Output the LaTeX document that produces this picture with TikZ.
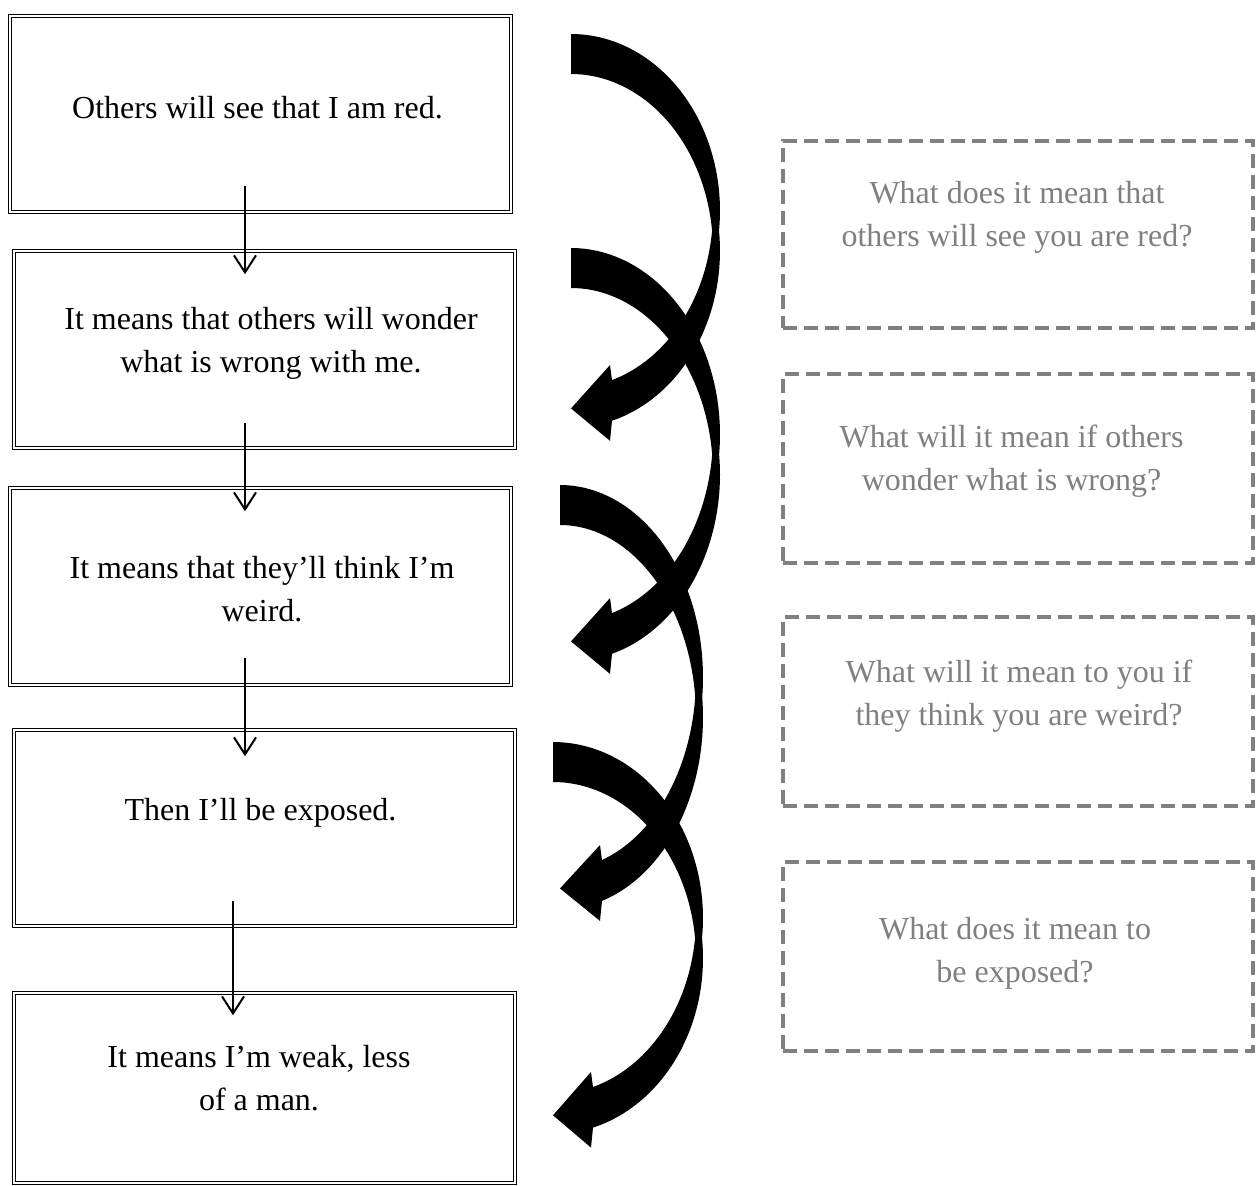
\documentclass[tikz,border=0pt]{standalone}
\usepackage{fontspec}
\setmainfont{Liberation Serif}
\usetikzlibrary{arrows.meta,calc}
\definecolor{qgray}{RGB}{128,128,128}
\tikzset{
  x=0.5pt, y=-0.5pt,
  leftbox/.style={draw=black, line width=0.75pt, double=white, double distance=0.75pt,
    minimum width=250.5pt, inner sep=0pt, rectangle},
  lefttext/.style={font=\fontsize{16}{21.5}\selectfont, align=center, inner sep=0pt, text=black},
  graytext/.style={font=\fontsize{16}{21.5}\selectfont, align=center, inner sep=0pt, text=qgray},
  dashbox/.style={draw=qgray, line width=2pt, dash pattern=on 7pt off 3.5pt,
    minimum width=235pt, inner sep=0pt, rectangle},
  conn/.style={line width=1pt, -{Straight Barb[length=8.5pt, width=11pt]}},
}
% #1 x0, #2 top, #3 outer radius, #4 vertical radius, #5 head offset
\newcommand{\bigcurvearrow}[5]{%
  \pgfmathsetmacro\cvya{#2+#4}%
  \pgfmathsetmacro\cvyb{#2+40+#4}%
  \pgfmathsetmacro\cvRi{#3-7}%
  \pgfmathsetmacro\cvta{asin(20/#4)}%
  \pgfmathsetmacro\cvtlo{acos(#5/#3)}%
  \pgfmathsetmacro\cvtli{acos(#5/\cvRi)}%
  \pgfmathsetmacro\cvU{\cvya+#4*sin(\cvtli)}%
  \pgfmathsetmacro\cvL{\cvyb+#4*sin(\cvtlo)}%
  \pgfmathsetmacro\cvtip{(\cvU+\cvL)/2+8}%
  \fill[black]
    plot[domain=-90:\cvta, samples=40, variable=\t] ({#1+#3*cos(\t)},{\cvya+#4*sin(\t)})
    -- plot[domain=-\cvta:\cvtlo, samples=40, variable=\t] ({#1+#3*cos(\t)},{\cvyb+#4*sin(\t)})
    -- ({#1+#5-2},{\cvL+20}) -- (#1,\cvtip) -- ({#1+#5-2},{\cvU-15})
    -- plot[domain=\cvtli:\cvta, samples=40, variable=\t] ({#1+\cvRi*cos(\t)},{\cvya+#4*sin(\t)})
    -- plot[domain=-\cvta:-90, samples=40, variable=\t] ({#1+\cvRi*cos(\t)},{\cvyb+#4*sin(\t)})
    -- cycle;
}
\begin{document}
\begin{tikzpicture}
\fill[white] (0,0) rectangle (1258,1186);
\useasboundingbox (0,0) rectangle (1258,1186);

% left boxes
\node[leftbox, minimum height=98pt] (b1) at (260.5,114) {};
\node[leftbox, minimum height=98.5pt] (b2) at (264.5,349.5) {};
\node[leftbox, minimum height=98.5pt] (b3) at (260.5,586.5) {};
\node[leftbox, minimum height=98pt] (b4) at (264.5,828) {};
\node[leftbox, minimum height=95pt] (b5) at (264.5,1088) {};

\node[lefttext] (t1) at (257.5,108) {Others will see that I am red.};
\node[lefttext] (t2) at (271,343.5) {It means that others will wonder\\what is wrong with me.};
\node[lefttext] (t3) at (262,589) {It means that they’ll think I’m\\weird.};
\node[lefttext] (t4) at (260.5,813) {Then I’ll be exposed.};
\node[lefttext] (t5) at (259,1078) {It means I’m weak, less\\of a man.};

% connectors
\draw[conn] ($(b1.south)+(-15.5,-27)$) -- ($(b2.north)+(-19.5,24)$);
\draw[conn] ($(b2.south)+(-19.5,-26)$) -- ($(b3.north)+(-15.5,24)$);
\draw[conn] ($(b3.south)+(-15.5,-28)$) -- ($(b4.north)+(-19.5,27)$);
\draw[conn] ($(b4.south)+(-31.5,-26)$) -- ($(b5.north)+(-31.5,23)$);

% dashed boxes
\node[dashbox, minimum height=93.5pt] (d1) at (1018,234.5) {};
\node[dashbox, minimum height=94.5pt] (d2) at (1018,468.5) {};
\node[dashbox, minimum height=94.5pt] (d3) at (1018,711.5) {};
\node[dashbox, minimum height=94.5pt] (d4) at (1018,956.5) {};

\node[graytext] (q1) at (1017,217.5) {What does it mean that\\others will see you are red?};
\node[graytext] (q2) at (1011.5,461.5) {What will it mean if others\\wonder what is wrong?};
\node[graytext] (q3) at (1019,696.5) {What will it mean to you if\\they think you are weird?};
\node[graytext] (q4) at (1015,953.5) {What does it mean to\\be exposed?};

% curved arrows
\bigcurvearrow{571}{34}{149}{176.8}{41}
\bigcurvearrow{571}{248}{149}{186.5}{41}
\bigcurvearrow{560}{485}{143}{192.2}{42}
\bigcurvearrow{553}{742}{150}{176}{40}
\end{tikzpicture}
\end{document}
